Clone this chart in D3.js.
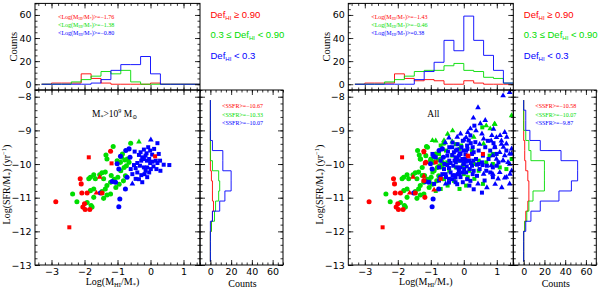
<!DOCTYPE html>
<html>
<head>
<meta charset="utf-8">
<script src="https://cdn.jsdelivr.net/npm/d3@7"></script>
<style>
  body { margin: 0; background: #fff; }
  svg { display: block; }
</style>
</head>
<body>
<div id="chart"></div>
<script>
// ---- data ----
// histogram bin edges
const mhiEdges = [-3.3, -3.0, -2.7, -2.4, -2.1, -1.8, -1.5, -1.2, -0.9, -0.6, -0.3, 0, 0.3, 0.6, 0.9, 1.2, 1.5];
const ssfrEdges = [-8.1, -8.4, -8.7, -9.0, -9.3, -9.6, -9.9, -10.2, -10.5, -10.8, -11.1, -11.4, -11.7, -12.0, -12.3, -12.6, -12.9];

// M* > 1e9 sample: counts per Log(MHI/M*) bin
const redTopMass = [0, 1, 1, 1, 9, 5, 1, 0, 0, 0, 0, 1, 0, 0, 0, 0];
const greenTopMass = [0, 0, 0, 2, 4, 7, 11, 9, 12, 2, 0, 0, 0, 0, 0, 0];
const blueTopMass = [0, 0, 0, 0, 0, 1, 4, 12, 17, 17, 24, 9, 0, 0, 0, 0];
// counts per Log(SFR/M*) bin
const redSideMass = [0, 0, 0, 0, 0, 0, 0, 1, 2, 2, 3, 2, 1, 0, 0, 0];
const greenSideMass = [0, 0, 0, 0, 0, 0, 2, 8, 9, 8, 5, 4, 1, 0, 0, 0];
const blueSideMass = [0, 0, 0, 0, 2, 12, 12, 20, 20, 14, 9, 2, 0, 0, 0, 0];

// whole sample
const redTopAll = [0, 1, 1, 1, 9, 5, 3, 4, 3, 0, 0, 3, 1, 0, 0, 0];
const greenTopAll = [0, 0, 0, 2, 4, 7, 11, 12, 12, 16, 18, 12, 11, 6, 5, 1];
const blueTopAll = [0, 0, 0, 0, 0, 0, 4, 11, 19, 38, 29, 59, 38, 25, 12, 1];
const redSideAll = [0, 0, 0, 0, 1, 1, 2, 4, 5, 5, 4, 2, 1, 0, 0, 0];
const greenSideAll = [0, 0, 0, 2, 5, 7, 20, 20, 20, 9, 5, 3, 1, 0, 0, 0];
const blueSideAll = [0, 2, 2, 6, 16, 36, 52, 52, 46, 34, 16, 7, 2, 0, 0, 0];

// scatter points [Log(MHI/M*), Log(SFR/M*), symbol]  c=circle s=square t=triangle
const redMass = [
  [-2.87, -11.12, "c"], [-2.46, -11.88, "s"], [-2.13, -10.44, "c"], [-2.10, -10.59, "c"],
  [-2.08, -10.86, "c"], [-1.92, -10.86, "c"], [-1.64, -10.86, "t"], [-1.47, -10.86, "c"],
  [-2.00, -11.18, "c"], [-2.05, -11.28, "c"], [-1.98, -11.35, "c"], [-1.84, -11.35, "c"],
  [-1.87, -9.80, "s"], [-1.21, -9.62, "c"], [-1.18, -9.98, "s"], [-1.54, -10.39, "t"],
  [0.14, -9.77, "s"]
];
const greenMass = [
  [-1.13, -9.48, "c"], [-1.35, -9.73, "c"], [-1.32, -9.85, "c"], [-1.01, -9.90, "c"], [-0.91, -9.95, "c"],
  [-1.47, -10.26, "c"], [-1.37, -10.24, "c"], [-1.54, -10.32, "c"], [-1.72, -10.32, "c"], [-1.82, -10.39, "c"],
  [-1.87, -10.44, "c"], [-1.67, -10.44, "c"], [-1.42, -10.44, "c"], [-1.19, -10.34, "c"], [-0.99, -10.39, "c"],
  [-1.21, -10.54, "c"], [-1.32, -10.64, "c"], [-1.37, -10.74, "c"], [-1.47, -10.82, "c"], [-1.72, -10.74, "c"],
  [-1.82, -10.79, "c"], [-1.21, -10.89, "c"], [-1.32, -10.92, "c"], [-1.42, -11.02, "c"], [-1.72, -10.99, "c"],
  [-2.36, -10.89, "c"], [-2.23, -11.12, "c"], [-1.92, -11.14, "c"], [-1.80, -11.23, "c"], [-1.77, -11.28, "c"],
  [-0.60, -9.38, "c"], [-0.35, -9.34, "t"], [-0.70, -9.85, "c"], [-0.73, -10.05, "c"], [-0.76, -10.35, "c"],
  [-0.85, -9.70, "c"], [-0.80, -10.10, "c"], [-0.90, -10.20, "c"], [-0.65, -9.95, "c"], [-0.95, -10.60, "c"],
  [-1.05, -10.70, "c"], [-1.10, -10.45, "c"], [-0.82, -10.50, "c"], [-0.88, -9.80, "c"], [-0.78, -9.88, "c"]
];
const blueMass = [
  [0.01, -9.28, "t"], [0.21, -9.38, "s"], [-0.65, -9.55, "c"], [-0.48, -9.63, "s"], [-0.20, -9.57, "s"],
  [-0.07, -9.50, "s"], [-0.01, -9.60, "s"], [0.11, -9.55, "s"], [-0.35, -9.73, "s"], [-0.25, -9.80, "s"],
  [-0.15, -9.75, "s"], [-0.28, -9.90, "s"], [-0.20, -9.85, "s"], [-0.11, -9.90, "s"], [-0.04, -9.85, "s"],
  [-0.01, -9.97, "s"], [0.06, -9.93, "s"], [0.16, -9.90, "s"], [0.29, -9.90, "s"], [0.21, -9.97, "s"],
  [0.57, -10.03, "s"], [-0.40, -9.97, "s"], [-0.50, -10.03, "s"], [-0.32, -10.05, "s"], [-0.20, -10.10, "s"],
  [-0.10, -10.10, "s"], [0.01, -10.15, "s"], [0.09, -10.07, "s"], [-0.15, -10.20, "s"], [-0.04, -10.25, "s"],
  [-0.40, -10.25, "s"], [-0.55, -10.30, "s"], [-0.28, -10.33, "s"], [-0.10, -10.39, "s"], [-0.45, -10.44, "s"],
  [-0.25, -10.54, "s"], [-0.55, -10.59, "t"], [-0.71, -10.39, "c"], [-0.76, -10.74, "c"], [-0.93, -11.04, "c"],
  [-0.96, -11.27, "c"], [-1.16, -10.52, "c"], [-0.91, -9.77, "c"], [-1.01, -9.99, "c"], [-0.96, -10.15, "c"],
  [-1.06, -10.54, "c"], [-1.52, -10.86, "c"], [-0.62, -9.80, "c"], [-0.75, -9.60, "c"], [-0.30, -9.65, "s"],
  [-0.12, -9.68, "s"], [0.05, -9.72, "s"], [0.25, -9.70, "s"], [0.18, -10.15, "s"], [0.30, -10.20, "s"],
  [-0.60, -10.15, "s"], [-0.45, -10.12, "s"], [-0.35, -10.45, "s"], [-0.18, -10.30, "s"], [0.40, -10.02, "s"]
];
// extra galaxies that only appear in the "All" panel
const redExtra = [
  [-1.21, -9.65, "s"], [-1.15, -9.95, "c"], [0.12, -9.75, "s"], [0.58, -9.70, "s"], [-0.70, -10.44, "s"],
  [-1.21, -10.49, "c"], [-1.18, -10.99, "c"], [-0.90, -10.77, "t"], [-1.21, -10.36, "t"], [-0.85, -9.95, "s"]
];
const greenExtra = [
  [0.94, -8.81, "t"], [0.68, -8.86, "t"], [0.56, -8.91, "s"], [1.45, -8.56, "t"], [-0.24, -9.41, "s"],
  [-0.08, -9.45, "s"], [-0.13, -9.55, "s"], [-0.54, -9.60, "s"], [-0.75, -9.70, "s"], [-1.10, -9.50, "c"],
  [-1.15, -9.75, "c"], [-1.00, -9.85, "c"], [-1.31, -9.85, "c"], [-1.26, -10.10, "c"], [-0.95, -10.25, "s"],
  [-0.64, -10.10, "s"], [-0.44, -10.20, "s"], [-0.24, -10.10, "s"], [-0.03, -10.05, "s"], [0.17, -10.20, "s"],
  [0.32, -10.44, "s"], [0.58, -10.59, "s"], [0.07, -10.64, "s"], [-0.13, -10.74, "s"], [0.12, -10.39, "s"],
  [0.68, -9.95, "s"], [0.78, -9.75, "s"], [0.88, -10.00, "s"], [1.09, -10.10, "s"], [1.29, -10.15, "s"],
  [1.45, -9.85, "s"], [-1.26, -10.34, "c"], [-1.05, -10.49, "c"], [-0.70, -10.74, "s"], [-0.49, -10.64, "s"],
  [-0.34, -9.01, "t"], [-0.49, -9.11, "t"], [-0.85, -9.31, "t"], [-0.60, -9.30, "t"], [0.88, -9.70, "s"],
  [0.99, -9.70, "s"], [0.93, -8.81, "t"], [0.30, -9.20, "t"], [0.45, -9.90, "s"], [-0.30, -10.50, "s"],
  [-1.40, -9.60, "c"], [-0.95, -9.30, "t"], [-0.70, -9.45, "s"], [-0.35, -9.75, "s"], [-0.50, -9.95, "s"],
  [-0.15, -9.90, "s"], [0.00, -10.30, "s"], [0.30, -10.00, "s"], [0.45, -10.20, "s"], [-0.60, -10.45, "s"],
  [-0.85, -10.80, "s"], [0.25, -9.60, "s"], [0.60, -9.40, "t"], [0.80, -8.95, "t"]
];
const blueExtra = [
  [0.43, -8.32, "t"], [0.29, -8.63, "t"], [0.90, -8.96, "t"], [1.24, -9.06, "t"], [0.32, -8.86, "s"],
  [0.37, -9.01, "t"], [0.12, -9.06, "t"], [0.07, -9.21, "t"], [-0.03, -9.31, "s"], [-0.19, -9.41, "s"],
  [-0.56, -9.36, "t"], [-0.34, -9.36, "s"], [-0.44, -9.50, "s"], [-0.24, -9.60, "s"], [0.07, -9.60, "s"],
  [0.27, -9.50, "s"], [0.48, -9.41, "t"], [0.73, -9.31, "s"], [0.94, -9.50, "s"], [1.14, -9.41, "t"],
  [1.29, -9.60, "s"], [1.45, -9.70, "t"], [0.99, -9.70, "s"], [0.58, -9.75, "s"], [0.37, -9.85, "s"],
  [0.17, -9.90, "s"], [-0.03, -9.85, "s"], [-0.24, -9.95, "s"], [-0.44, -9.90, "s"], [-0.59, -10.00, "s"],
  [-0.75, -10.10, "s"], [-0.85, -9.80, "s"], [-0.95, -9.70, "s"], [1.19, -9.90, "t"], [1.39, -10.00, "t"],
  [0.88, -10.10, "s"], [0.68, -10.20, "s"], [0.48, -10.15, "s"], [0.27, -10.30, "s"], [0.07, -10.25, "s"],
  [-0.13, -10.30, "s"], [-0.34, -10.34, "s"], [-0.54, -10.39, "s"], [-0.75, -10.49, "s"], [-0.90, -10.59, "s"],
  [1.09, -10.25, "t"], [1.29, -10.39, "t"], [0.88, -10.39, "s"], [0.63, -10.49, "s"], [0.43, -10.59, "t"],
  [0.17, -10.64, "s"], [-0.03, -10.54, "s"], [1.39, -10.59, "t"], [1.19, -7.97, "t"], [1.39, -7.87, "t"],
  [0.83, -9.31, "t"], [0.99, -9.21, "t"], [1.14, -9.31, "t"], [1.29, -9.40, "t"], [1.45, -9.55, "t"],
  [0.94, -9.50, "t"], [1.09, -9.65, "t"], [1.24, -9.75, "t"], [1.39, -9.70, "t"], [0.88, -9.75, "t"],
  [0.99, -9.85, "t"], [1.19, -9.90, "t"], [1.34, -9.95, "t"], [1.45, -10.20, "t"], [0.88, -10.30, "t"],
  [1.04, -10.44, "t"], [1.24, -10.41, "t"], [0.83, -10.05, "t"],
  [-0.45, -9.22, "t"], [-0.20, -9.20, "t"], [0.20, -9.15, "s"], [0.55, -9.10, "t"], [0.65, -9.50, "s"],
  [0.45, -9.60, "s"], [0.10, -9.45, "s"], [-0.10, -9.70, "s"], [0.30, -9.65, "s"], [0.80, -9.60, "s"],
  [0.75, -9.85, "s"], [0.55, -9.95, "s"], [0.25, -10.05, "s"], [0.00, -10.00, "s"], [-0.15, -10.15, "s"],
  [0.40, -10.35, "s"], [0.60, -10.30, "t"], [0.80, -10.25, "s"], [1.00, -10.05, "s"], [0.95, -10.60, "t"],
  [0.70, -10.70, "t"], [0.30, -10.75, "s"], [-0.20, -10.60, "s"], [-0.45, -10.55, "s"], [-0.65, -10.30, "s"],
  [-0.70, -9.90, "s"], [-0.50, -9.75, "s"], [-0.35, -9.50, "s"], [0.15, -9.30, "s"], [0.60, -9.25, "t"],
  [0.85, -9.15, "t"], [1.10, -9.15, "t"], [1.20, -9.50, "t"], [1.05, -9.95, "s"], [0.50, -8.80, "t"],
  [0.65, -8.70, "t"], [0.20, -8.95, "t"], [-0.10, -9.10, "t"], [0.35, -9.35, "s"], [0.90, -9.38, "s"],
  [1.30, -9.20, "t"], [1.40, -10.30, "t"], [1.15, -10.70, "t"], [0.55, -10.85, "s"], [0.10, -10.45, "s"],
  [-0.25, -10.40, "s"], [0.05, -9.85, "s"], [0.45, -10.00, "s"], [0.70, -10.05, "s"], [0.20, -10.50, "s"]
];

const panels = [
  {
    left: 35, label: "mass",
    red: redMass, green: greenMass, blue: blueMass,
    topHist: [redTopMass, greenTopMass, blueTopMass],
    sideHist: [redSideMass, greenSideMass, blueSideMass],
    meanMhi: ["\u22121.76", "\u22121.38", "\u22120.80"],
    meanSsfr: ["\u221210.67", "\u221210.33", "\u221210.07"]
  },
  {
    left: 348.3, label: "all",
    red: redMass.concat(redExtra), green: greenMass.concat(greenExtra), blue: blueMass.concat(blueExtra),
    topHist: [redTopAll, greenTopAll, blueTopAll],
    sideHist: [redSideAll, greenSideAll, blueSideAll],
    meanMhi: ["\u22121.43", "\u22120.46", "0.38"],
    meanSsfr: ["\u221210.58", "\u221210.07", "\u22129.87"]
  }
];

const COLORS = ["#ff0000", "#00dd00", "#0000ff"];
const SERIF = "'Liberation Serif', 'DejaVu Serif', serif";
const SANS = "'DejaVu Sans', sans-serif";
const NARROW = "'Liberation Sans', Arial, sans-serif";

const W = 600, H = 289;
const TOP = 3.4, MID = 90, BOT = 265;
const SC_W = 165, SIDE_W = 83;

const svg = d3.select("#chart").append("svg")
  .attr("width", W).attr("height", H)
  .style("background", "white");

// inward ticks on one side of a box
function ticks(g, axisFn, scale, major, minor, len, pos, labels, fmt) {
  const d = scale.domain();
  const lo = Math.min(d[0], d[1]), hi = Math.max(d[0], d[1]);
  const minorVals = d3.range(Math.ceil(lo / minor - 1e-6), Math.floor(hi / minor + 1e-6) + 1).map((k) => +(k * minor).toFixed(4));
  const majorVals = minorVals.filter((v) => Math.abs(v / major - Math.round(v / major)) < 1e-6);
  const gMin = g.append("g").attr("transform", pos)
    .call(axisFn(scale).tickValues(minorVals).tickSize(-len / 2).tickFormat(""));
  gMin.select(".domain").remove();
  const gMaj = g.append("g").attr("transform", pos)
    .call(axisFn(scale).tickValues(majorVals).tickSize(-len).tickPadding(labels ? 3.5 : 0)
      .tickFormat(labels ? fmt : ""));
  gMaj.select(".domain").remove();
  g.selectAll(".tick line").attr("stroke", "#000").attr("stroke-width", 0.8);
  gMaj.selectAll("text").attr("font-family", SANS).attr("font-size", 9.5).attr("fill", "#000");
}

const minusFmt = (v) => (v < 0 ? "\u2212" + Math.abs(v) : "" + v);

function symbolPath(s) {
  if (s === "s") return d3.symbol(d3.symbolSquare, 16)();
  if (s === "t") return d3.symbol(d3.symbolTriangle, 14)();
  return d3.symbol(d3.symbolCircle, 20)();
}

panels.forEach((p) => {
  const L = p.left, R = L + SC_W, R2 = R + SIDE_W;
  const g = svg.append("g");

  const x = d3.scaleLinear().domain([-3.5, 1.5]).range([L, R]);
  const y = d3.scaleLinear().domain([-13, -7.8]).range([BOT, MID]);
  const yTop = d3.scaleLinear().domain([-5, 70]).range([MID, TOP]);
  const xSide = d3.scaleLinear().domain([-10, 70]).range([R, R2]);

  // ---- top histogram ----
  const topLine = d3.line().x((d) => x(d[0])).y((d) => yTop(d[1]));
  p.topHist.forEach((counts, ci) => {
    const pts = [];
    counts.forEach((c, i) => { pts.push([mhiEdges[i], c]); pts.push([mhiEdges[i + 1], c]); });
    g.append("path").attr("d", topLine(pts)).attr("fill", "none")
      .attr("stroke", COLORS[ci]).attr("stroke-width", 0.9);
  });

  // ---- side histogram ----
  const sideLine = d3.line().x((d) => xSide(d[1])).y((d) => y(d[0]));
  p.sideHist.forEach((counts, ci) => {
    const pts = [];
    counts.forEach((c, i) => { pts.push([ssfrEdges[i], c]); pts.push([ssfrEdges[i + 1], c]); });
    g.append("path").attr("d", sideLine(pts)).attr("fill", "none")
      .attr("stroke", COLORS[ci]).attr("stroke-width", 0.9);
  });

  // ---- scatter ----
  const sc = g.append("g");
  [[p.green, 1], [p.blue, 2], [p.red, 0]].forEach(([pts, ci]) => {
    sc.selectAll(null).data(pts).enter().append("path")
      .attr("d", (d) => symbolPath(d[2]))
      .attr("transform", (d) => `translate(${x(d[0])},${y(d[1])})`)
      .attr("fill", COLORS[ci]);
  });

  // ---- frames and ticks ----
  g.append("rect").attr("x", L).attr("y", TOP).attr("width", SC_W).attr("height", MID - TOP)
    .attr("fill", "none").attr("stroke", "#000").attr("stroke-width", 1);
  g.append("rect").attr("x", L).attr("y", MID).attr("width", SC_W).attr("height", BOT - MID)
    .attr("fill", "none").attr("stroke", "#000").attr("stroke-width", 1);
  g.append("rect").attr("x", R).attr("y", MID).attr("width", SIDE_W).attr("height", BOT - MID)
    .attr("fill", "none").attr("stroke", "#000").attr("stroke-width", 1);

  const tg = g.append("g");
  // top hist
  ticks(tg, d3.axisLeft, yTop, 20, 5, 5, `translate(${L},0)`, true, (v) => v);
  ticks(tg, d3.axisRight, yTop, 20, 5, 5, `translate(${R},0)`, false);
  ticks(tg, d3.axisTop, x, 1, 0.2, 5, `translate(0,${TOP})`, false);
  ticks(tg, d3.axisBottom, x, 1, 0.2, 5, `translate(0,${MID})`, false);
  // scatter
  ticks(tg, d3.axisLeft, y, 1, 0.2, 5, `translate(${L},0)`, true, minusFmt);
  ticks(tg, d3.axisRight, y, 1, 0.2, 5, `translate(${R},0)`, false);
  ticks(tg, d3.axisTop, x, 1, 0.2, 5, `translate(0,${MID})`, false);
  ticks(tg, d3.axisBottom, x, 1, 0.2, 5, `translate(0,${BOT})`, true, minusFmt);
  // side hist
  ticks(tg, d3.axisLeft, y, 1, 0.2, 5, `translate(${R},0)`, false);
  ticks(tg, d3.axisRight, y, 1, 0.2, 5, `translate(${R2},0)`, false);
  ticks(tg, d3.axisTop, xSide, 20, 5, 5, `translate(0,${MID})`, false);
  ticks(tg, d3.axisBottom, xSide, 20, 5, 5, `translate(0,${BOT})`, true, (v) => v);

  // ---- axis titles ----
  g.append("text").attr("transform", `translate(${L - 18},${(TOP + MID) / 2}) rotate(-90)`)
    .attr("text-anchor", "middle").attr("font-family", SERIF).attr("font-size", 10.5).text("Counts");
  const ylab = g.append("text").attr("transform", `translate(${L - 25},${(MID + BOT) / 2 + 7}) rotate(-90)`)
    .attr("text-anchor", "middle").attr("font-family", SERIF).attr("font-size", 10);
  ylab.append("tspan").text("Log(SFR/M");
  ylab.append("tspan").attr("font-size", 6.5).attr("dy", 2).text("*");
  ylab.append("tspan").attr("dy", -2).text(")  (yr");
  ylab.append("tspan").attr("font-size", 6.5).attr("dy", -4).text("\u22121");
  ylab.append("tspan").attr("dy", 4).text(")");

  const xlab = g.append("text").attr("x", (L + R) / 2 - 5).attr("y", 285)
    .attr("text-anchor", "middle").attr("font-family", SERIF).attr("font-size", 10);
  xlab.append("tspan").text("Log(M");
  xlab.append("tspan").attr("font-size", 6.5).attr("dy", 1.5).text("HI");
  xlab.append("tspan").attr("dy", -1.5).text("/M");
  xlab.append("tspan").attr("font-size", 6.5).attr("dy", 1.5).text("*");
  xlab.append("tspan").attr("dy", -1.5).text(")");

  g.append("text").attr("x", (R + R2) / 2 + 1).attr("y", 286.5).attr("text-anchor", "middle")
    .attr("font-family", SERIF).attr("font-size", 10).text("Counts");

  // ---- legends ----
  p.meanMhi.forEach((m, i) => {
    const t = g.append("text").attr("x", L + 23).attr("y", 18.5 + i * 8.3)
      .attr("font-family", SERIF).attr("font-size", 6).attr("fill", COLORS[i]);
    t.append("tspan").text("<Log(M");
    t.append("tspan").attr("font-size", 4).attr("dy", 1).text("HI");
    t.append("tspan").attr("dy", -1).text("/M");
    t.append("tspan").attr("font-size", 4).attr("dy", 1).text("*");
    t.append("tspan").attr("dy", -1).text(")>=" + m);
  });
  p.meanSsfr.forEach((m, i) => {
    g.append("text").attr("x", R + 22).attr("y", 108 + i * 8.5)
      .attr("font-family", SERIF).attr("font-size", 6).attr("fill", COLORS[i])
      .text("<SSFR>=" + m);
  });

  const defs = [["Def", " \u2265 0.90", ""], ["Def", " < 0.90", "0.3 \u2264 "], ["Def", " < 0.3", ""]];
  defs.forEach((d, i) => {
    const t = g.append("text").attr("x", R + 10.5).attr("y", 17.5 + i * 20.5)
      .attr("font-family", NARROW).attr("font-size", 9.5).attr("fill", COLORS[i]);
    if (d[2]) t.append("tspan").text(d[2]);
    t.append("tspan").text(d[0]);
    t.append("tspan").attr("font-size", 6).attr("dy", 2).text("HI");
    t.append("tspan").attr("dy", -2).text(d[1]);
  });

  // ---- panel label ----
  if (p.label === "mass") {
    const t = g.append("text").attr("x", L + 57).attr("y", 117).attr("font-family", SERIF).attr("font-size", 9.5);
    t.append("tspan").text("M");
    t.append("tspan").attr("font-size", 6).attr("dy", 2).text("*");
    t.append("tspan").attr("dy", -2).text(">10");
    t.append("tspan").attr("font-size", 6).attr("dy", -4).text("9");
    t.append("tspan").attr("dy", 4).text(" M");
    t.append("tspan").attr("font-size", 6).attr("dy", 2).text("\u2299");
  } else {
    g.append("text").attr("x", L + 79).attr("y", 117).attr("font-family", SERIF).attr("font-size", 9.5).text("All");
  }
});
</script>
</body>
</html>
